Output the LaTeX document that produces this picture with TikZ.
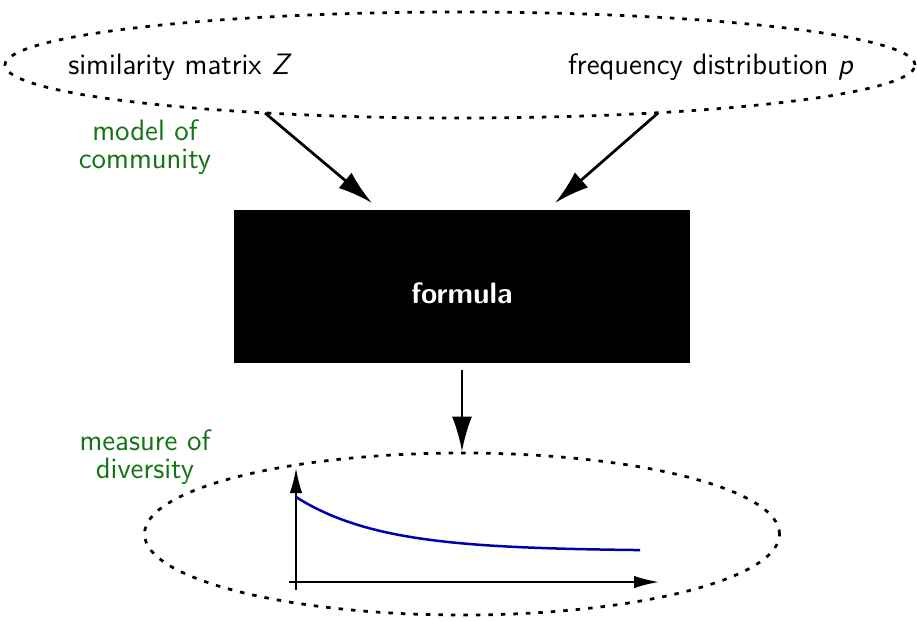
\documentclass[tikz,border=0pt]{standalone}
\usetikzlibrary{shapes.geometric,arrows.meta}
\definecolor{lblgreen}{RGB}{20,115,20}
\definecolor{curveblue}{RGB}{0,0,170}
\begin{document}
\begin{tikzpicture}[x=0.4pt,y=-0.4pt,
  font=\sffamily\fontsize{11.8}{11}\selectfont,
  dotline/.style={line width=1.1pt,dash pattern=on 1.8pt off 3.2pt},
  bigarrow/.style={line width=1.1pt,-{Latex[length=14pt,width=8pt]}},
  axisarrow/.style={line width=0.8pt,-{Latex[length=10pt,width=5pt]}},
  lbl/.style={text=lblgreen,align=center,inner sep=0pt}]
\useasboundingbox (0,0) rectangle (917,621);
\node[ellipse,dotline,draw,minimum width=364pt,minimum height=42.4pt,inner sep=0pt] (inputs) at (460,65) {};
\node[inner sep=0pt] (zlabel) at (180,67) {similarity matrix \textsl{Z}};
\node[inner sep=0pt] (plabel) at (711,67) {frequency distribution \textsl{p}};
\node[lbl] (model) at (145,147) {model of\\community};
\node[fill=black,minimum width=182.4pt,minimum height=61.2pt,inner sep=0pt] (formula) at (462,286.5) {};
\node[inner sep=0pt,text=white,font=\sffamily\bfseries\fontsize{11.8}{13}\selectfont] (formulatext) at (462,293) {formula};
\node[ellipse,dotline,draw,minimum width=254pt,minimum height=64.8pt,inner sep=0pt] (output) at (462,534) {};
\node[lbl] (measure) at (145,457) {measure of\\diversity};
\coordinate (zstart) at (265,113);
\coordinate (zend) at (372,203);
\coordinate (pstart) at (658,113);
\coordinate (pend) at (555,203);
\coordinate (fstart) at (462,370);
\draw[bigarrow] (zstart) -- (zend);
\draw[bigarrow] (pstart) -- (pend);
\draw[bigarrow] (fstart) -- (output.north);
\coordinate (ytop) at (296,468);
\coordinate (ybot) at (296,590);
\coordinate (xleft) at (289,582);
\coordinate (xright) at (659,582);
\draw[axisarrow] (ybot) -- (ytop);
\draw[axisarrow] (xleft) -- (xright);
\draw[curveblue,line width=1pt] plot[domain=296:640,samples=80,smooth] (\x,{551-54*exp(-(\x-296)/85)});
\end{tikzpicture}
\end{document}
